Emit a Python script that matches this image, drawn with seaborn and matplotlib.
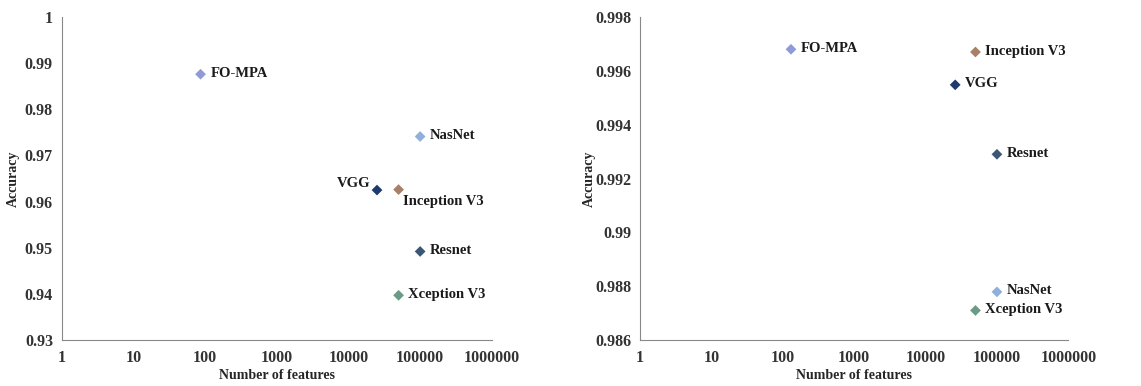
import pandas as pd
import matplotlib
matplotlib.use("Agg")
import matplotlib.pyplot as plt
import seaborn as sns

# --- data ---
models = ["FO-MPA", "NasNet", "VGG", "Inception V3", "Resnet", "Xception V3"]

left_features = [86, 100000, 25000, 50000, 100000, 50000]
left_accuracy = [0.9876, 0.9741, 0.9625, 0.9626, 0.9492, 0.9397]

right_features = [130, 100000, 26000, 50000, 100000, 50000]
right_accuracy = [0.99680, 0.98779, 0.99548, 0.99670, 0.99290, 0.98710]

colors = {
    "FO-MPA": "#8f9bd8",
    "NasNet": "#8fb0da",
    "VGG": "#1e3a6e",
    "Inception V3": "#a8806a",
    "Resnet": "#3c5676",
    "Xception V3": "#6d9a85",
}

# label offsets (points) for each panel
left_offsets = {
    "FO-MPA": (7, -4, "left"),
    "NasNet": (7, -4, "left"),
    "VGG": (-5, 0, "right"),
    "Inception V3": (3, -13, "left"),
    "Resnet": (7, -4, "left"),
    "Xception V3": (7, -4, "left"),
}
right_offsets = {m: (7, -4, "left") for m in models}

sns.set_style("white")
plt.rcParams["font.family"] = ["Liberation Serif", "DejaVu Serif"]
plt.rcParams["font.weight"] = "bold"

fig = plt.figure(figsize=(11.41, 3.86), dpi=100)
ax1 = fig.add_axes([0.0543, 0.119, 0.3767, 0.837])
ax2 = fig.add_axes([0.561, 0.119, 0.3753, 0.837])


def draw_panel(ax, feats, acc, offsets, ylim, yticks, ylabels, ylab_x):
    df = pd.DataFrame({"model": models, "features": feats, "accuracy": acc})
    sns.scatterplot(data=df, x="features", y="accuracy", hue="model",
                    palette=colors, marker="D", s=30, edgecolor="none",
                    legend=False, ax=ax)
    for m, x, y in zip(models, feats, acc):
        dx, dy, ha = offsets[m]
        ax.annotate(m, (x, y), xytext=(dx, dy), textcoords="offset points",
                    ha=ha, va="bottom", fontsize=10.5, fontweight="bold",
                    color="#1a1a1a")
    ax.set_xscale("log")
    ax.set_xlim(1, 1000000)
    ax.set_ylim(*ylim)
    xt = [1, 10, 100, 1000, 10000, 100000, 1000000]
    ax.set_xticks(xt)
    ax.set_xticklabels([str(v) for v in xt])
    ax.minorticks_off()
    ax.set_yticks(yticks)
    ax.set_yticklabels(ylabels)
    ax.tick_params(axis="both", direction="inout", length=6, width=0.8,
                   color="#888888", labelsize=11.5, labelcolor="#333333")
    ax.tick_params(axis="x", pad=4)
    for lab in ax.get_xticklabels() + ax.get_yticklabels():
        lab.set_fontweight("bold")
    ax.set_xlabel("Number of features", fontsize=10, fontweight="bold",
                  labelpad=2)
    ax.set_ylabel("Accuracy", fontsize=10, fontweight="bold")
    ax.yaxis.set_label_coords(ylab_x, 0.5)
    for s in ["top", "right"]:
        ax.spines[s].set_visible(False)
    for s in ["left", "bottom"]:
        ax.spines[s].set_color("#888888")
        ax.spines[s].set_linewidth(0.8)


left_yticks = [0.93, 0.94, 0.95, 0.96, 0.97, 0.98, 0.99, 1.0]
left_ylabels = ["0.93", "0.94", "0.95", "0.96", "0.97", "0.98", "0.99", "1"]
right_yticks = [0.986, 0.988, 0.990, 0.992, 0.994, 0.996, 0.998]
right_ylabels = ["0.986", "0.988", "0.99", "0.992", "0.994", "0.996", "0.998"]

draw_panel(ax1, left_features, left_accuracy, left_offsets,
           (0.93, 1.0), left_yticks, left_ylabels, -0.097)
draw_panel(ax2, right_features, right_accuracy, right_offsets,
           (0.986, 0.998), right_yticks, right_ylabels, -0.104)

fig.savefig("out.png", dpi=100)
